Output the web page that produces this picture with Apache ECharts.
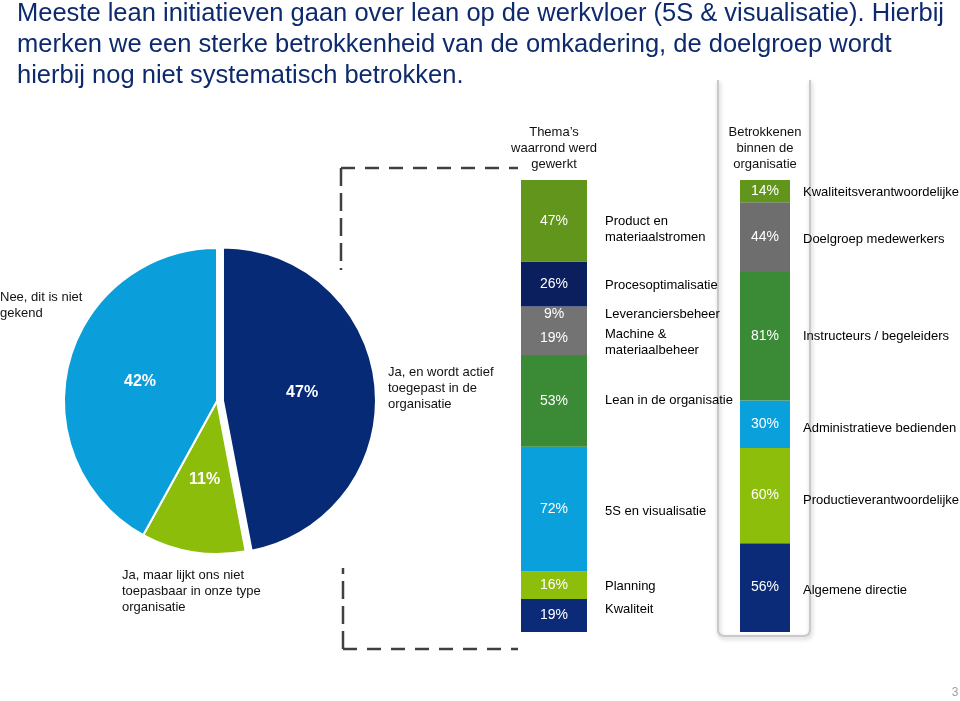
<!DOCTYPE html>
<html>
<head>
<meta charset="utf-8">
<script src="https://cdn.jsdelivr.net/npm/echarts@6/dist/echarts.min.js"></script>
<style>
html,body{margin:0;padding:0;background:#fff;}
#chart{width:960px;height:701px;}
</style>
</head>
<body>
<div id="chart"></div>
<script>
// ---- DATA ----
const titleText = 'Meeste lean initiatieven gaan over lean op de werkvloer (5S & visualisatie). Hierbij\nmerken we een sterke betrokkenheid van de omkadering, de doelgroep wordt\nhierbij nog niet systematisch betrokken.';
const pieNames = ['Ja, en wordt actief\ntoegepast in de\norganisatie', 'Ja, maar lijkt ons niet\ntoepasbaar in onze type\norganisatie', 'Nee, dit is niet\ngekend'];
const pieValues = [47, 11, 42];

const themaTitle = 'Thema’s\nwaarrond werd\ngewerkt';
const themaCats = ['Product en\nmateriaalstromen', 'Procesoptimalisatie', 'Leveranciersbeheer', 'Machine &\nmateriaalbeheer', 'Lean in de organisatie', '5S en visualisatie', 'Planning', 'Kwaliteit'];
const themaValues = [47, 26, 9, 19, 53, 72, 16, 19];

const betrokTitle = 'Betrokkenen\nbinnen de\norganisatie';
const betrokCats = ['Kwaliteitsverantwoordelijke', 'Doelgroep medewerkers', 'Instructeurs / begeleiders', 'Administratieve bedienden', 'Productieverantwoordelijke', 'Algemene directie'];
const betrokValues = [14, 44, 81, 30, 60, 56];

const pageNumber = '3';

// ---- STYLE ----
const FONT = '"Liberation Sans", Arial, sans-serif';
const pieColors = ['#062a76', '#8cbd0a', '#0a9edb'];
const themaColors = ['#62951c', '#0b1f5e', '#737373', '#737373', '#3b8a35', '#0aa0dc', '#8dbe0b', '#0b2a78'];
const betrokColors = ['#62951c', '#6e6e6e', '#3b8a35', '#0aa0dc', '#8dbe0b', '#0b2a78'];
// vertical nudges (px) of the category name labels
const themaLabelDy = [9, 2, 0, 4, 0, 2, 1, -6];
const betrokLabelDy = [1, 2, 0, 4, 5, 3];

const chart = echarts.init(document.getElementById('chart'), null, {renderer: 'canvas'});

function stackSeries(idx, cats, values, colors, barW, labelDist, dys) {
  const total = values.reduce((a, b) => a + b, 0);
  const series = [];
  for (let j = values.length - 1; j >= 0; j--) {
    series.push({
      type: 'bar', xAxisIndex: idx, yAxisIndex: idx, stack: 's' + idx,
      barWidth: barW, silent: true,
      data: [values[j]],
      itemStyle: {color: colors[j]},
      label: {show: true, position: 'inside', formatter: '{c}%', color: '#fff', fontSize: 14, fontFamily: FONT}
    });
  }
  let cum = total;
  const pts = [];
  for (let j = 0; j < values.length; j++) {
    const mid = cum - values[j] / 2;
    cum -= values[j];
    pts.push({value: [0, mid], name: cats[j], label: {offset: [0, dys[j]]}});
  }
  series.push({
    type: 'scatter', xAxisIndex: idx, yAxisIndex: idx, silent: true,
    symbolSize: 0, itemStyle: {color: '#000', opacity: 1},
    data: pts,
    label: {show: true, position: 'right', distance: labelDist, formatter: p => p.name,
      color: '#000', textBorderWidth: 0, opacity: 1, fontSize: 13, lineHeight: 16, fontFamily: FONT}
  });
  return {series, total};
}

const s1 = stackSeries(0, themaCats, themaValues, themaColors, 66, 51, themaLabelDy);
const s2 = stackSeries(1, betrokCats, betrokValues, betrokColors, 50, 38, betrokLabelDy);

const dashStyle = {stroke: '#404040', lineWidth: 2.5};
const txt = {fill: '#111', fontSize: 13, lineHeight: 16, fontFamily: FONT, verticalAlign: 'top'};

const option = {
  backgroundColor: '#fff',
  animation: false,
  title: {
    text: titleText, left: 12, top: -7,
    textStyle: {color: '#0d2a6e', fontSize: 25.5, fontWeight: 'normal', lineHeight: 31, fontFamily: FONT}
  },
  grid: [
    {left: 521, top: 180, width: 66, height: 452},
    {left: 740, top: 180, width: 50, height: 452}
  ],
  xAxis: [
    {type: 'category', gridIndex: 0, data: ['t'], show: false},
    {type: 'category', gridIndex: 1, data: ['b'], show: false}
  ],
  yAxis: [
    {type: 'value', gridIndex: 0, min: 0, max: s1.total, show: false},
    {type: 'value', gridIndex: 1, min: 0, max: s2.total, show: false}
  ],
  graphic: [
    {type: 'polyline', z: -1, shape: {points: [[718, 80], [718, 631], [719.5, 634.5], [723, 636], [805, 636], [808.5, 634.5], [810, 631], [810, 80]]},
      style: {fill: null, stroke: '#c9c9c9', lineWidth: 2, shadowBlur: 4, shadowColor: 'rgba(0,0,0,0.25)', shadowOffsetX: 1, shadowOffsetY: 2}},
    {type: 'polyline', shape: {points: [[341, 168], [518, 168]]}, style: Object.assign({lineDash: [14, 10]}, dashStyle)},
    {type: 'polyline', shape: {points: [[341, 168], [341, 270]]}, style: Object.assign({lineDash: [18, 7]}, dashStyle)},
    {type: 'polyline', shape: {points: [[343, 649], [518, 649]]}, style: Object.assign({lineDash: [14, 10]}, dashStyle)},
    {type: 'polyline', shape: {points: [[343, 649], [343, 568]]}, style: Object.assign({lineDash: [18, 7]}, dashStyle)},
    {type: 'text', style: Object.assign({text: themaTitle, x: 554, y: 124, align: 'center'}, txt)},
    {type: 'text', style: Object.assign({text: betrokTitle, x: 765, y: 124, align: 'center'}, txt)},
    {type: 'text', style: Object.assign({text: pieNames[0], x: 388, y: 364, align: 'left'}, txt)},
    {type: 'text', style: Object.assign({text: pieNames[1], x: 122, y: 567, align: 'left'}, txt)},
    {type: 'text', style: Object.assign({text: pieNames[2], x: 0, y: 289, align: 'left'}, txt)},
    {type: 'text', style: {text: pageNumber, x: 955, y: 693, align: 'center', verticalAlign: 'middle', fill: '#a0a0a0', fontSize: 12, fontFamily: FONT}}
  ],
  series: [
    {
      type: 'pie', center: [217, 401], radius: 153, startAngle: 90, clockwise: true,
      selectedMode: 'single', selectedOffset: 6, silent: true,
      avoidLabelOverlap: false,
      itemStyle: {borderColor: '#fff', borderWidth: 2},
      label: {show: true, position: 'inside', formatter: '{c}%', color: '#fff', fontSize: 16, fontWeight: 'bold', fontFamily: FONT},
      labelLine: {show: false},
      data: pieValues.map((v, i) => ({value: v, name: pieNames[i], selected: i === 0, itemStyle: {color: pieColors[i]}}))
    }
  ].concat(s1.series, s2.series)
};
chart.setOption(option);
</script>
</body>
</html>
